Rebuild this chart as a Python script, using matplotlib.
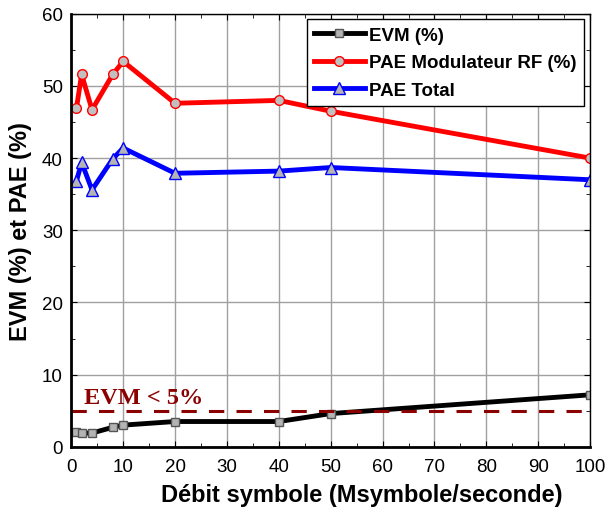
import matplotlib.pyplot as plt
from matplotlib.ticker import MultipleLocator

plt.rcParams['font.family'] = ['Liberation Sans', 'DejaVu Sans']

debit = [1, 2, 4, 8, 10, 20, 40, 50, 100]
evm = [2.1, 1.9, 1.9, 2.7, 3.0, 3.5, 3.5, 4.6, 7.2]
pae_mod = [46.9, 51.6, 46.7, 51.6, 53.4, 47.6, 48.0, 46.5, 40.0]
pae_total = [36.8, 39.4, 35.6, 39.9, 41.4, 37.9, 38.2, 38.7, 37.0]
evm_limit = 5

fig = plt.figure(figsize=(6.09, 5.10), dpi=100)
ax = fig.add_axes([0.117, 0.122, 0.852, 0.849])

ax.plot(debit, evm, color='black', linewidth=3.5, marker='s', markersize=6,
        markerfacecolor='#b4b4b4', markeredgecolor='#555555', markeredgewidth=1,
        label='EVM (%)')
ax.plot(debit, pae_mod, color='red', linewidth=3.5, marker='o', markersize=7,
        markerfacecolor='#c0c0c0', markeredgecolor='red', markeredgewidth=1,
        label='PAE Modulateur RF (%)')
ax.plot(debit, pae_total, color='blue', linewidth=3.5, marker='^', markersize=8.5,
        markerfacecolor='#b4b4b4', markeredgecolor='blue', markeredgewidth=1,
        label='PAE Total')

ax.axhline(evm_limit, color='#8b0000', linewidth=2.2, linestyle=(0, (5, 4)))
ax.text(2.5, 6.0, 'EVM < 5%', color='#8b0000', fontsize=17.5, fontweight='bold',
        family=['Liberation Serif', 'DejaVu Serif'])

ax.set_xlim(0, 100)
ax.set_ylim(0, 60)
ax.xaxis.set_major_locator(MultipleLocator(10))
ax.xaxis.set_minor_locator(MultipleLocator(5))
ax.yaxis.set_major_locator(MultipleLocator(10))
ax.yaxis.set_minor_locator(MultipleLocator(5))
ax.tick_params(which='both', direction='in', top=True, right=True, labelsize=13.5)
ax.tick_params(axis='x', pad=8)
ax.tick_params(axis='y', pad=6)
ax.tick_params(which='major', length=4)
ax.tick_params(which='minor', length=3)
ax.grid(True, which='major', color='#a0a0a0', linewidth=1)
ax.set_axisbelow(True)

ax.spines['left'].set_linewidth(2)
ax.spines['bottom'].set_linewidth(2)
ax.spines['top'].set_linewidth(1)
ax.spines['right'].set_linewidth(1)

ax.set_xlabel('Débit symbole (Msymbole/seconde)', fontsize=17, fontweight='bold')
ax.set_ylabel('EVM (%) et PAE (%)', fontsize=17, fontweight='bold')
ax.xaxis.set_label_coords(0.56, -0.083)
ax.yaxis.set_label_coords(-0.075, 0.5)

leg = ax.legend(loc='upper right', bbox_to_anchor=(1.0, 1.0), fancybox=False,
                edgecolor='black', framealpha=1, prop={'weight': 'bold', 'size': 13.5},
                handlelength=2.7, borderaxespad=0.3, labelspacing=0.55,
                handletextpad=0.25, borderpad=0.4)
leg.get_frame().set_linewidth(1)

fig.savefig('out.png', dpi=100)
